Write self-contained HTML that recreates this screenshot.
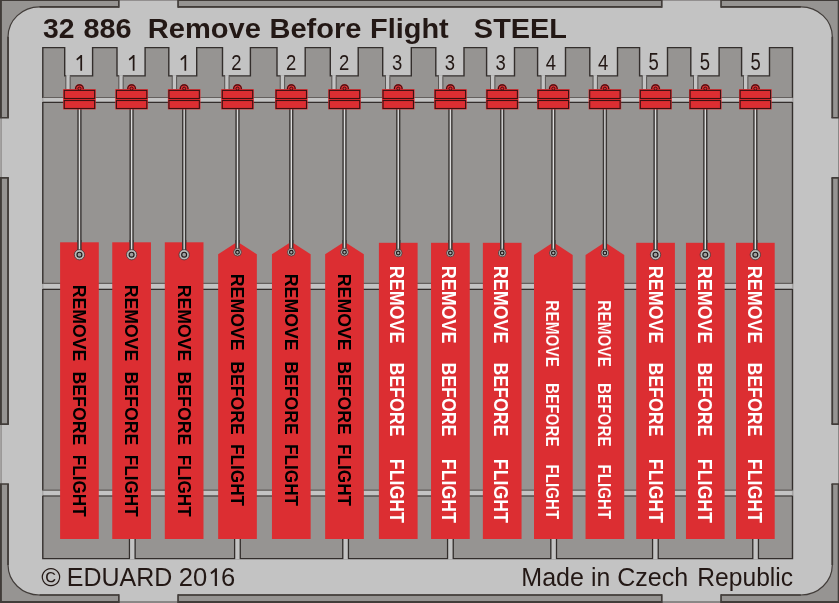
<!DOCTYPE html>
<html><head><meta charset="utf-8"><title>32 886 Remove Before Flight STEEL</title>
<style>html,body{margin:0;padding:0;background:#969492;overflow:hidden}svg{display:block;will-change:transform}text{font-family:"Liberation Sans",sans-serif;white-space:pre}</style>
</head><body>
<svg width="839" height="603" viewBox="0 0 839 603">
<rect x="0" y="0" width="839" height="603" fill="#969492"/>
<path d="M39.55,6.8 H800.8 A31.5,30 0 0 1 832.3,36.8 V565.0 A31.5,30 0 0 1 800.8,595.0 H39.55 A31.5,30 0 0 1 8.05,565.0 V36.8 A31.5,30 0 0 1 39.55,6.8 Z" fill="#c3c3c3" stroke="#413c39" stroke-width="1.2"/>
<path d="M39.55,6.8 H800.8 M832.3,36.8 V565.0 M800.8,595.0 H39.55 M8.05,565.0 V36.8" fill="none" stroke="#413c39" stroke-width="1.7"/>
<rect x="0" y="0" width="1.9" height="603" fill="#413c39"/>
<rect x="0" y="0" width="839" height="1" fill="#413c39"/>
<rect x="837.7" y="0" width="1.3" height="603" fill="#413c39"/>
<rect x="0" y="601" width="839" height="2" fill="#413c39"/>
<rect x="118.85" y="0" width="59.20000000000002" height="8" fill="#c3c3c3"/>
<rect x="118.85" y="0" width="59.20000000000002" height="0.85" fill="#8a8786"/>
<path d="M118.85,0 V7.6499999999999995 M178.05,0 V7.6499999999999995" stroke="#413c39" stroke-width="1.7" fill="none"/>
<rect x="118.85" y="593" width="59.20000000000002" height="10" fill="#c3c3c3"/>
<rect x="118.85" y="601" width="59.20000000000002" height="2" fill="#8a8786"/>
<path d="M118.85,603 V594.15 M178.05,603 V594.15" stroke="#413c39" stroke-width="1.7" fill="none"/>
<rect x="661.8" y="0" width="59.25" height="8" fill="#c3c3c3"/>
<rect x="661.8" y="0" width="59.25" height="0.85" fill="#8a8786"/>
<path d="M661.8,0 V7.6499999999999995 M721.05,0 V7.6499999999999995" stroke="#413c39" stroke-width="1.7" fill="none"/>
<rect x="661.8" y="593" width="59.25" height="10" fill="#c3c3c3"/>
<rect x="661.8" y="601" width="59.25" height="2" fill="#8a8786"/>
<path d="M661.8,603 V594.15 M721.05,603 V594.15" stroke="#413c39" stroke-width="1.7" fill="none"/>
<rect x="0" y="117.75" width="10" height="60.05000000000001" fill="#c3c3c3"/>
<rect x="0" y="117.75" width="1.7" height="60.05000000000001" fill="#a3a1a0"/>
<rect x="1.5" y="117.75" width="0.5" height="60.05000000000001" fill="#8a8786"/>
<path d="M0,117.75 H8.9 M0,177.8 H8.9" stroke="#413c39" stroke-width="1.7" fill="none"/>
<rect x="830" y="117.75" width="9" height="60.05000000000001" fill="#c3c3c3"/>
<rect x="838" y="117.75" width="1" height="60.05000000000001" fill="#8a8786"/>
<path d="M839,117.75 H831.4499999999999 M839,177.8 H831.4499999999999" stroke="#413c39" stroke-width="1.7" fill="none"/>
<rect x="0" y="424.2" width="10" height="59.80000000000001" fill="#c3c3c3"/>
<rect x="0" y="424.2" width="1.7" height="59.80000000000001" fill="#a3a1a0"/>
<rect x="1.5" y="424.2" width="0.5" height="59.80000000000001" fill="#8a8786"/>
<path d="M0,424.2 H8.9 M0,484.0 H8.9" stroke="#413c39" stroke-width="1.7" fill="none"/>
<rect x="830" y="424.2" width="9" height="59.80000000000001" fill="#c3c3c3"/>
<rect x="838" y="424.2" width="1" height="59.80000000000001" fill="#8a8786"/>
<path d="M839,424.2 H831.4499999999999 M839,484.0 H831.4499999999999" stroke="#413c39" stroke-width="1.7" fill="none"/>
<path d="M42.8,47.6 H64.70 V75.9 H92.60 V47.6 H117.00 V75.9 H145.10 V47.6 H168.80 V75.9 H196.70 V47.6 H222.50 V75.9 H250.40 V47.6 H277.00 V75.9 H305.20 V47.6 H330.30 V75.9 H358.20 V47.6 H382.70 V75.9 H411.30 V47.6 H435.80 V75.9 H464.00 V47.6 H486.60 V75.9 H514.50 V47.6 H537.60 V75.9 H565.50 V47.6 H589.80 V75.9 H617.50 V47.6 H639.60 V75.9 H667.50 V47.6 H690.80 V75.9 H719.10 V47.6 H741.60 V75.9 H769.50 V47.6 H792.5 V558.6 H42.8 Z" fill="#969492" stroke="#332e2c" stroke-width="1.4" stroke-linejoin="miter"/>
<rect x="41.8" y="98.0" width="751.7" height="3.9000000000000057" fill="#c3c3c3"/>
<path d="M42.8,97.5 H792.5" stroke="#64605e" stroke-width="1.2" fill="none"/>
<path d="M42.8,98.1 V101.80000000000001 M792.5,98.1 V101.80000000000001" stroke="#a5a3a2" stroke-width="1.2" fill="none"/>
<path d="M42.8,102.4 H792.5" stroke="#332e2c" stroke-width="1.1" fill="none"/>
<rect x="41.8" y="283.9" width="751.7" height="5.0" fill="#c3c3c3"/>
<path d="M42.8,283.4 H792.5" stroke="#64605e" stroke-width="1.2" fill="none"/>
<path d="M42.8,284.0 V288.79999999999995 M792.5,284.0 V288.79999999999995" stroke="#a5a3a2" stroke-width="1.2" fill="none"/>
<path d="M42.8,289.4 H792.5" stroke="#332e2c" stroke-width="1.1" fill="none"/>
<rect x="41.8" y="490.7" width="751.7" height="4.800000000000011" fill="#c3c3c3"/>
<path d="M42.8,490.2 H792.5" stroke="#64605e" stroke-width="1.2" fill="none"/>
<path d="M42.8,490.8 V495.4 M792.5,490.8 V495.4" stroke="#a5a3a2" stroke-width="1.2" fill="none"/>
<path d="M42.8,496.0 H792.5" stroke="#332e2c" stroke-width="1.1" fill="none"/>
<rect x="66.20" y="75.10000000000001" width="3.60" height="14.399999999999995" fill="#c3c3c3"/>
<path d="M65.80,75.9 V89.5 M70.20,76.5 V89.5" stroke="#5a5654" stroke-width="1" fill="none"/>
<rect x="119.20" y="75.10000000000001" width="3.60" height="14.399999999999995" fill="#c3c3c3"/>
<path d="M118.80,75.9 V89.5 M123.20,76.5 V89.5" stroke="#5a5654" stroke-width="1" fill="none"/>
<rect x="172.60" y="75.10000000000001" width="3.60" height="14.399999999999995" fill="#c3c3c3"/>
<path d="M172.20,75.9 V89.5 M176.60,76.5 V89.5" stroke="#5a5654" stroke-width="1" fill="none"/>
<rect x="225.10" y="75.10000000000001" width="3.60" height="14.399999999999995" fill="#c3c3c3"/>
<path d="M224.70,75.9 V89.5 M229.10,76.5 V89.5" stroke="#5a5654" stroke-width="1" fill="none"/>
<rect x="280.60" y="75.10000000000001" width="3.60" height="14.399999999999995" fill="#c3c3c3"/>
<path d="M280.20,75.9 V89.5 M284.60,76.5 V89.5" stroke="#5a5654" stroke-width="1" fill="none"/>
<rect x="332.20" y="75.10000000000001" width="3.60" height="14.399999999999995" fill="#c3c3c3"/>
<path d="M331.80,75.9 V89.5 M336.20,76.5 V89.5" stroke="#5a5654" stroke-width="1" fill="none"/>
<rect x="385.90" y="75.10000000000001" width="3.60" height="14.399999999999995" fill="#c3c3c3"/>
<path d="M385.50,75.9 V89.5 M389.90,76.5 V89.5" stroke="#5a5654" stroke-width="1" fill="none"/>
<rect x="438.90" y="75.10000000000001" width="3.60" height="14.399999999999995" fill="#c3c3c3"/>
<path d="M438.50,75.9 V89.5 M442.90,76.5 V89.5" stroke="#5a5654" stroke-width="1" fill="none"/>
<rect x="490.90" y="75.10000000000001" width="3.60" height="14.399999999999995" fill="#c3c3c3"/>
<path d="M490.50,75.9 V89.5 M494.90,76.5 V89.5" stroke="#5a5654" stroke-width="1" fill="none"/>
<rect x="541.40" y="75.10000000000001" width="3.60" height="14.399999999999995" fill="#c3c3c3"/>
<path d="M541.00,75.9 V89.5 M545.40,76.5 V89.5" stroke="#5a5654" stroke-width="1" fill="none"/>
<rect x="593.40" y="75.10000000000001" width="3.60" height="14.399999999999995" fill="#c3c3c3"/>
<path d="M593.00,75.9 V89.5 M597.40,76.5 V89.5" stroke="#5a5654" stroke-width="1" fill="none"/>
<rect x="642.60" y="75.10000000000001" width="3.60" height="14.399999999999995" fill="#c3c3c3"/>
<path d="M642.20,75.9 V89.5 M646.60,76.5 V89.5" stroke="#5a5654" stroke-width="1" fill="none"/>
<rect x="693.90" y="75.10000000000001" width="3.60" height="14.399999999999995" fill="#c3c3c3"/>
<path d="M693.50,75.9 V89.5 M697.90,76.5 V89.5" stroke="#5a5654" stroke-width="1" fill="none"/>
<rect x="743.90" y="75.10000000000001" width="3.60" height="14.399999999999995" fill="#c3c3c3"/>
<path d="M743.50,75.9 V89.5 M747.90,76.5 V89.5" stroke="#5a5654" stroke-width="1" fill="none"/>
<rect x="130.00" y="539" width="4.60" height="20.400000000000023" fill="#c3c3c3"/>
<path d="M129.45,539 V558.6 M135.15,539 V558.6" stroke="#332e2c" stroke-width="1.25" fill="none"/>
<rect x="235.15" y="539" width="4.60" height="20.400000000000023" fill="#c3c3c3"/>
<path d="M234.60,539 V558.6 M240.30,539 V558.6" stroke="#332e2c" stroke-width="1.25" fill="none"/>
<rect x="343.30" y="539" width="4.60" height="20.400000000000023" fill="#c3c3c3"/>
<path d="M342.75,539 V558.6 M348.45,539 V558.6" stroke="#332e2c" stroke-width="1.25" fill="none"/>
<rect x="448.10" y="539" width="4.60" height="20.400000000000023" fill="#c3c3c3"/>
<path d="M447.55,539 V558.6 M453.25,539 V558.6" stroke="#332e2c" stroke-width="1.25" fill="none"/>
<rect x="551.35" y="539" width="4.60" height="20.400000000000023" fill="#c3c3c3"/>
<path d="M550.80,539 V558.6 M556.50,539 V558.6" stroke="#332e2c" stroke-width="1.25" fill="none"/>
<rect x="653.10" y="539" width="4.60" height="20.400000000000023" fill="#c3c3c3"/>
<path d="M652.55,539 V558.6 M658.25,539 V558.6" stroke="#332e2c" stroke-width="1.25" fill="none"/>
<rect x="753.30" y="539" width="4.60" height="20.400000000000023" fill="#c3c3c3"/>
<path d="M752.75,539 V558.6 M758.45,539 V558.6" stroke="#332e2c" stroke-width="1.25" fill="none"/>
<rect x="77.30" y="108" width="4.3" height="142" fill="#3b3735"/>
<rect x="78.75" y="108" width="1.4" height="142" fill="#dcdcdc"/>
<rect x="129.45" y="108" width="4.3" height="142" fill="#3b3735"/>
<rect x="130.90" y="108" width="1.4" height="142" fill="#dcdcdc"/>
<rect x="182.00" y="108" width="4.3" height="142" fill="#3b3735"/>
<rect x="183.45" y="108" width="1.4" height="142" fill="#dcdcdc"/>
<rect x="235.35" y="108" width="4.3" height="141" fill="#3b3735"/>
<rect x="236.80" y="108" width="1.4" height="141" fill="#dcdcdc"/>
<rect x="289.15" y="108" width="4.3" height="141" fill="#3b3735"/>
<rect x="290.60" y="108" width="1.4" height="141" fill="#dcdcdc"/>
<rect x="342.35" y="108" width="4.3" height="141" fill="#3b3735"/>
<rect x="343.80" y="108" width="1.4" height="141" fill="#dcdcdc"/>
<rect x="396.10" y="108" width="4.3" height="141" fill="#3b3735"/>
<rect x="397.55" y="108" width="1.4" height="141" fill="#dcdcdc"/>
<rect x="448.25" y="108" width="4.3" height="141" fill="#3b3735"/>
<rect x="449.70" y="108" width="1.4" height="141" fill="#dcdcdc"/>
<rect x="500.05" y="108" width="4.3" height="141" fill="#3b3735"/>
<rect x="501.50" y="108" width="1.4" height="141" fill="#dcdcdc"/>
<rect x="551.20" y="108" width="4.3" height="141" fill="#3b3735"/>
<rect x="552.65" y="108" width="1.4" height="141" fill="#dcdcdc"/>
<rect x="602.75" y="108" width="4.3" height="141" fill="#3b3735"/>
<rect x="604.20" y="108" width="1.4" height="141" fill="#dcdcdc"/>
<rect x="653.40" y="108" width="4.3" height="142" fill="#3b3735"/>
<rect x="654.85" y="108" width="1.4" height="142" fill="#dcdcdc"/>
<rect x="703.15" y="108" width="4.3" height="142" fill="#3b3735"/>
<rect x="704.60" y="108" width="1.4" height="142" fill="#dcdcdc"/>
<rect x="753.20" y="108" width="4.3" height="142" fill="#3b3735"/>
<rect x="754.65" y="108" width="1.4" height="142" fill="#dcdcdc"/>
<rect x="60.10" y="242.3" width="38.7" height="296.7" fill="#dc2e32"/>
<rect x="112.25" y="242.3" width="38.7" height="296.7" fill="#dc2e32"/>
<rect x="164.80" y="242.3" width="38.7" height="296.7" fill="#dc2e32"/>
<path d="M218.15,539 V254.3 L237.50,241.7 L256.85,254.3 V539 Z" fill="#dc2e32"/>
<path d="M271.95,539 V254.3 L291.30,241.7 L310.65,254.3 V539 Z" fill="#dc2e32"/>
<path d="M325.15,539 V254.3 L344.50,241.7 L363.85,254.3 V539 Z" fill="#dc2e32"/>
<rect x="378.90" y="242.8" width="38.7" height="296.2" fill="#dc2e32"/>
<rect x="431.05" y="242.8" width="38.7" height="296.2" fill="#dc2e32"/>
<rect x="482.85" y="242.8" width="38.7" height="296.2" fill="#dc2e32"/>
<path d="M534.00,539 V255.1 L553.35,242.2 L572.70,255.1 V539 Z" fill="#dc2e32"/>
<path d="M585.55,539 V255.1 L604.90,242.2 L624.25,255.1 V539 Z" fill="#dc2e32"/>
<rect x="636.20" y="242.8" width="38.7" height="296.2" fill="#dc2e32"/>
<rect x="685.95" y="242.8" width="38.7" height="296.2" fill="#dc2e32"/>
<rect x="736.00" y="242.8" width="38.7" height="296.2" fill="#dc2e32"/>
<rect x="77.30" y="240" width="4.3" height="10.699999999999989" fill="#3b3735"/>
<rect x="78.75" y="240" width="1.4" height="10.699999999999989" fill="#dcdcdc"/>
<circle cx="79.45" cy="254.7" r="5.15" fill="#b9b9b9" stroke="#332e2c" stroke-width="0.7"/>
<circle cx="79.45" cy="254.7" r="2.45" fill="#9e9e9e" stroke="#1f1b1a" stroke-width="1.2"/>
<rect x="129.45" y="240" width="4.3" height="10.699999999999989" fill="#3b3735"/>
<rect x="130.90" y="240" width="1.4" height="10.699999999999989" fill="#dcdcdc"/>
<circle cx="131.60" cy="254.7" r="5.15" fill="#b9b9b9" stroke="#332e2c" stroke-width="0.7"/>
<circle cx="131.60" cy="254.7" r="2.45" fill="#9e9e9e" stroke="#1f1b1a" stroke-width="1.2"/>
<rect x="182.00" y="240" width="4.3" height="10.699999999999989" fill="#3b3735"/>
<rect x="183.45" y="240" width="1.4" height="10.699999999999989" fill="#dcdcdc"/>
<circle cx="184.15" cy="254.7" r="5.15" fill="#b9b9b9" stroke="#332e2c" stroke-width="0.7"/>
<circle cx="184.15" cy="254.7" r="2.45" fill="#9e9e9e" stroke="#1f1b1a" stroke-width="1.2"/>
<rect x="235.35" y="240" width="4.3" height="9.199999999999989" fill="#3b3735"/>
<rect x="236.80" y="240" width="1.4" height="9.199999999999989" fill="#dcdcdc"/>
<circle cx="237.50" cy="252.2" r="3.85" fill="#b9b9b9" stroke="#332e2c" stroke-width="0.7"/>
<circle cx="237.50" cy="252.2" r="1.8" fill="#a8a8a8" stroke="#1f1b1a" stroke-width="1.25"/>
<rect x="289.15" y="240" width="4.3" height="9.199999999999989" fill="#3b3735"/>
<rect x="290.60" y="240" width="1.4" height="9.199999999999989" fill="#dcdcdc"/>
<circle cx="291.30" cy="252.2" r="3.85" fill="#b9b9b9" stroke="#332e2c" stroke-width="0.7"/>
<circle cx="291.30" cy="252.2" r="1.8" fill="#a8a8a8" stroke="#1f1b1a" stroke-width="1.25"/>
<rect x="342.35" y="240" width="4.3" height="9.199999999999989" fill="#3b3735"/>
<rect x="343.80" y="240" width="1.4" height="9.199999999999989" fill="#dcdcdc"/>
<circle cx="344.50" cy="252.2" r="3.85" fill="#b9b9b9" stroke="#332e2c" stroke-width="0.7"/>
<circle cx="344.50" cy="252.2" r="1.8" fill="#a8a8a8" stroke="#1f1b1a" stroke-width="1.25"/>
<rect x="396.10" y="240" width="4.3" height="10.0" fill="#3b3735"/>
<rect x="397.55" y="240" width="1.4" height="10.0" fill="#dcdcdc"/>
<circle cx="398.25" cy="253.0" r="3.85" fill="#b9b9b9" stroke="#332e2c" stroke-width="0.7"/>
<circle cx="398.25" cy="253.0" r="1.8" fill="#a8a8a8" stroke="#1f1b1a" stroke-width="1.25"/>
<rect x="448.25" y="240" width="4.3" height="10.0" fill="#3b3735"/>
<rect x="449.70" y="240" width="1.4" height="10.0" fill="#dcdcdc"/>
<circle cx="450.40" cy="253.0" r="3.85" fill="#b9b9b9" stroke="#332e2c" stroke-width="0.7"/>
<circle cx="450.40" cy="253.0" r="1.8" fill="#a8a8a8" stroke="#1f1b1a" stroke-width="1.25"/>
<rect x="500.05" y="240" width="4.3" height="10.0" fill="#3b3735"/>
<rect x="501.50" y="240" width="1.4" height="10.0" fill="#dcdcdc"/>
<circle cx="502.20" cy="253.0" r="3.85" fill="#b9b9b9" stroke="#332e2c" stroke-width="0.7"/>
<circle cx="502.20" cy="253.0" r="1.8" fill="#a8a8a8" stroke="#1f1b1a" stroke-width="1.25"/>
<rect x="551.20" y="240" width="4.3" height="10.0" fill="#3b3735"/>
<rect x="552.65" y="240" width="1.4" height="10.0" fill="#dcdcdc"/>
<circle cx="553.35" cy="253.0" r="3.85" fill="#b9b9b9" stroke="#332e2c" stroke-width="0.7"/>
<circle cx="553.35" cy="253.0" r="1.8" fill="#a8a8a8" stroke="#1f1b1a" stroke-width="1.25"/>
<rect x="602.75" y="240" width="4.3" height="10.0" fill="#3b3735"/>
<rect x="604.20" y="240" width="1.4" height="10.0" fill="#dcdcdc"/>
<circle cx="604.90" cy="253.0" r="3.85" fill="#b9b9b9" stroke="#332e2c" stroke-width="0.7"/>
<circle cx="604.90" cy="253.0" r="1.8" fill="#a8a8a8" stroke="#1f1b1a" stroke-width="1.25"/>
<rect x="653.40" y="240" width="4.3" height="10.699999999999989" fill="#3b3735"/>
<rect x="654.85" y="240" width="1.4" height="10.699999999999989" fill="#dcdcdc"/>
<circle cx="655.55" cy="254.7" r="5.15" fill="#b9b9b9" stroke="#332e2c" stroke-width="0.7"/>
<circle cx="655.55" cy="254.7" r="2.45" fill="#9e9e9e" stroke="#1f1b1a" stroke-width="1.2"/>
<rect x="703.15" y="240" width="4.3" height="10.699999999999989" fill="#3b3735"/>
<rect x="704.60" y="240" width="1.4" height="10.699999999999989" fill="#dcdcdc"/>
<circle cx="705.30" cy="254.7" r="5.15" fill="#b9b9b9" stroke="#332e2c" stroke-width="0.7"/>
<circle cx="705.30" cy="254.7" r="2.45" fill="#9e9e9e" stroke="#1f1b1a" stroke-width="1.2"/>
<rect x="753.20" y="240" width="4.3" height="10.699999999999989" fill="#3b3735"/>
<rect x="754.65" y="240" width="1.4" height="10.699999999999989" fill="#dcdcdc"/>
<circle cx="755.35" cy="254.7" r="5.15" fill="#b9b9b9" stroke="#332e2c" stroke-width="0.7"/>
<circle cx="755.35" cy="254.7" r="2.45" fill="#9e9e9e" stroke="#1f1b1a" stroke-width="1.2"/>
<circle cx="79.45" cy="88.7" r="4.7" fill="#dc2e32"/>
<circle cx="79.45" cy="88.7" r="3.85" fill="none" stroke="#3b1112" stroke-width="1.15"/>
<rect x="63.15" y="89.1" width="32.6" height="20.3" fill="#dc2e32"/>
<rect x="64.25" y="90.4" width="30.4" height="8.1" fill="#dc2e32" stroke="#3b1112" stroke-width="1.1"/>
<rect x="64.25" y="100.5" width="30.4" height="8.0" fill="#dc2e32" stroke="#3b1112" stroke-width="1.1"/>
<circle cx="79.45" cy="88.6" r="1.5" fill="#dc2e32" stroke="#3b1112" stroke-width="1.0"/>
<circle cx="131.60" cy="88.7" r="4.7" fill="#dc2e32"/>
<circle cx="131.60" cy="88.7" r="3.85" fill="none" stroke="#3b1112" stroke-width="1.15"/>
<rect x="115.30" y="89.1" width="32.6" height="20.3" fill="#dc2e32"/>
<rect x="116.40" y="90.4" width="30.4" height="8.1" fill="#dc2e32" stroke="#3b1112" stroke-width="1.1"/>
<rect x="116.40" y="100.5" width="30.4" height="8.0" fill="#dc2e32" stroke="#3b1112" stroke-width="1.1"/>
<circle cx="131.60" cy="88.6" r="1.5" fill="#dc2e32" stroke="#3b1112" stroke-width="1.0"/>
<circle cx="184.15" cy="88.7" r="4.7" fill="#dc2e32"/>
<circle cx="184.15" cy="88.7" r="3.85" fill="none" stroke="#3b1112" stroke-width="1.15"/>
<rect x="167.85" y="89.1" width="32.6" height="20.3" fill="#dc2e32"/>
<rect x="168.95" y="90.4" width="30.4" height="8.1" fill="#dc2e32" stroke="#3b1112" stroke-width="1.1"/>
<rect x="168.95" y="100.5" width="30.4" height="8.0" fill="#dc2e32" stroke="#3b1112" stroke-width="1.1"/>
<circle cx="184.15" cy="88.6" r="1.5" fill="#dc2e32" stroke="#3b1112" stroke-width="1.0"/>
<circle cx="237.50" cy="88.7" r="4.7" fill="#dc2e32"/>
<circle cx="237.50" cy="88.7" r="3.85" fill="none" stroke="#3b1112" stroke-width="1.15"/>
<rect x="221.20" y="89.1" width="32.6" height="20.3" fill="#dc2e32"/>
<rect x="222.30" y="90.4" width="30.4" height="8.1" fill="#dc2e32" stroke="#3b1112" stroke-width="1.1"/>
<rect x="222.30" y="100.5" width="30.4" height="8.0" fill="#dc2e32" stroke="#3b1112" stroke-width="1.1"/>
<circle cx="237.50" cy="88.6" r="1.5" fill="#dc2e32" stroke="#3b1112" stroke-width="1.0"/>
<circle cx="291.30" cy="88.7" r="4.7" fill="#dc2e32"/>
<circle cx="291.30" cy="88.7" r="3.85" fill="none" stroke="#3b1112" stroke-width="1.15"/>
<rect x="275.00" y="89.1" width="32.6" height="20.3" fill="#dc2e32"/>
<rect x="276.10" y="90.4" width="30.4" height="8.1" fill="#dc2e32" stroke="#3b1112" stroke-width="1.1"/>
<rect x="276.10" y="100.5" width="30.4" height="8.0" fill="#dc2e32" stroke="#3b1112" stroke-width="1.1"/>
<circle cx="291.30" cy="88.6" r="1.5" fill="#dc2e32" stroke="#3b1112" stroke-width="1.0"/>
<circle cx="344.50" cy="88.7" r="4.7" fill="#dc2e32"/>
<circle cx="344.50" cy="88.7" r="3.85" fill="none" stroke="#3b1112" stroke-width="1.15"/>
<rect x="328.20" y="89.1" width="32.6" height="20.3" fill="#dc2e32"/>
<rect x="329.30" y="90.4" width="30.4" height="8.1" fill="#dc2e32" stroke="#3b1112" stroke-width="1.1"/>
<rect x="329.30" y="100.5" width="30.4" height="8.0" fill="#dc2e32" stroke="#3b1112" stroke-width="1.1"/>
<circle cx="344.50" cy="88.6" r="1.5" fill="#dc2e32" stroke="#3b1112" stroke-width="1.0"/>
<circle cx="398.25" cy="88.7" r="4.7" fill="#dc2e32"/>
<circle cx="398.25" cy="88.7" r="3.85" fill="none" stroke="#3b1112" stroke-width="1.15"/>
<rect x="381.95" y="89.1" width="32.6" height="20.3" fill="#dc2e32"/>
<rect x="383.05" y="90.4" width="30.4" height="8.1" fill="#dc2e32" stroke="#3b1112" stroke-width="1.1"/>
<rect x="383.05" y="100.5" width="30.4" height="8.0" fill="#dc2e32" stroke="#3b1112" stroke-width="1.1"/>
<circle cx="398.25" cy="88.6" r="1.5" fill="#dc2e32" stroke="#3b1112" stroke-width="1.0"/>
<circle cx="450.40" cy="88.7" r="4.7" fill="#dc2e32"/>
<circle cx="450.40" cy="88.7" r="3.85" fill="none" stroke="#3b1112" stroke-width="1.15"/>
<rect x="434.10" y="89.1" width="32.6" height="20.3" fill="#dc2e32"/>
<rect x="435.20" y="90.4" width="30.4" height="8.1" fill="#dc2e32" stroke="#3b1112" stroke-width="1.1"/>
<rect x="435.20" y="100.5" width="30.4" height="8.0" fill="#dc2e32" stroke="#3b1112" stroke-width="1.1"/>
<circle cx="450.40" cy="88.6" r="1.5" fill="#dc2e32" stroke="#3b1112" stroke-width="1.0"/>
<circle cx="502.20" cy="88.7" r="4.7" fill="#dc2e32"/>
<circle cx="502.20" cy="88.7" r="3.85" fill="none" stroke="#3b1112" stroke-width="1.15"/>
<rect x="485.90" y="89.1" width="32.6" height="20.3" fill="#dc2e32"/>
<rect x="487.00" y="90.4" width="30.4" height="8.1" fill="#dc2e32" stroke="#3b1112" stroke-width="1.1"/>
<rect x="487.00" y="100.5" width="30.4" height="8.0" fill="#dc2e32" stroke="#3b1112" stroke-width="1.1"/>
<circle cx="502.20" cy="88.6" r="1.5" fill="#dc2e32" stroke="#3b1112" stroke-width="1.0"/>
<circle cx="553.35" cy="88.7" r="4.7" fill="#dc2e32"/>
<circle cx="553.35" cy="88.7" r="3.85" fill="none" stroke="#3b1112" stroke-width="1.15"/>
<rect x="537.05" y="89.1" width="32.6" height="20.3" fill="#dc2e32"/>
<rect x="538.15" y="90.4" width="30.4" height="8.1" fill="#dc2e32" stroke="#3b1112" stroke-width="1.1"/>
<rect x="538.15" y="100.5" width="30.4" height="8.0" fill="#dc2e32" stroke="#3b1112" stroke-width="1.1"/>
<circle cx="553.35" cy="88.6" r="1.5" fill="#dc2e32" stroke="#3b1112" stroke-width="1.0"/>
<circle cx="604.90" cy="88.7" r="4.7" fill="#dc2e32"/>
<circle cx="604.90" cy="88.7" r="3.85" fill="none" stroke="#3b1112" stroke-width="1.15"/>
<rect x="588.60" y="89.1" width="32.6" height="20.3" fill="#dc2e32"/>
<rect x="589.70" y="90.4" width="30.4" height="8.1" fill="#dc2e32" stroke="#3b1112" stroke-width="1.1"/>
<rect x="589.70" y="100.5" width="30.4" height="8.0" fill="#dc2e32" stroke="#3b1112" stroke-width="1.1"/>
<circle cx="604.90" cy="88.6" r="1.5" fill="#dc2e32" stroke="#3b1112" stroke-width="1.0"/>
<circle cx="655.55" cy="88.7" r="4.7" fill="#dc2e32"/>
<circle cx="655.55" cy="88.7" r="3.85" fill="none" stroke="#3b1112" stroke-width="1.15"/>
<rect x="639.25" y="89.1" width="32.6" height="20.3" fill="#dc2e32"/>
<rect x="640.35" y="90.4" width="30.4" height="8.1" fill="#dc2e32" stroke="#3b1112" stroke-width="1.1"/>
<rect x="640.35" y="100.5" width="30.4" height="8.0" fill="#dc2e32" stroke="#3b1112" stroke-width="1.1"/>
<circle cx="655.55" cy="88.6" r="1.5" fill="#dc2e32" stroke="#3b1112" stroke-width="1.0"/>
<circle cx="705.30" cy="88.7" r="4.7" fill="#dc2e32"/>
<circle cx="705.30" cy="88.7" r="3.85" fill="none" stroke="#3b1112" stroke-width="1.15"/>
<rect x="689.00" y="89.1" width="32.6" height="20.3" fill="#dc2e32"/>
<rect x="690.10" y="90.4" width="30.4" height="8.1" fill="#dc2e32" stroke="#3b1112" stroke-width="1.1"/>
<rect x="690.10" y="100.5" width="30.4" height="8.0" fill="#dc2e32" stroke="#3b1112" stroke-width="1.1"/>
<circle cx="705.30" cy="88.6" r="1.5" fill="#dc2e32" stroke="#3b1112" stroke-width="1.0"/>
<circle cx="755.35" cy="88.7" r="4.7" fill="#dc2e32"/>
<circle cx="755.35" cy="88.7" r="3.85" fill="none" stroke="#3b1112" stroke-width="1.15"/>
<rect x="739.05" y="89.1" width="32.6" height="20.3" fill="#dc2e32"/>
<rect x="740.15" y="90.4" width="30.4" height="8.1" fill="#dc2e32" stroke="#3b1112" stroke-width="1.1"/>
<rect x="740.15" y="100.5" width="30.4" height="8.0" fill="#dc2e32" stroke="#3b1112" stroke-width="1.1"/>
<circle cx="755.35" cy="88.6" r="1.5" fill="#dc2e32" stroke="#3b1112" stroke-width="1.0"/>
<text transform="translate(73.15,284.82) rotate(90) scale(0.9802,1)" font-size="18" font-weight="bold" fill="#000" >REMOVE</text>
<text transform="translate(73.15,371.52) rotate(90) scale(0.9836,1)" font-size="18" font-weight="bold" fill="#000" >BEFORE</text>
<text transform="translate(73.15,454.75) rotate(90) scale(0.9530,1)" font-size="18" font-weight="bold" fill="#000" >FLIGHT</text>
<text transform="translate(125.30,284.82) rotate(90) scale(0.9802,1)" font-size="18" font-weight="bold" fill="#000" >REMOVE</text>
<text transform="translate(125.30,371.52) rotate(90) scale(0.9836,1)" font-size="18" font-weight="bold" fill="#000" >BEFORE</text>
<text transform="translate(125.30,454.75) rotate(90) scale(0.9530,1)" font-size="18" font-weight="bold" fill="#000" >FLIGHT</text>
<text transform="translate(177.85,284.82) rotate(90) scale(0.9802,1)" font-size="18" font-weight="bold" fill="#000" >REMOVE</text>
<text transform="translate(177.85,371.52) rotate(90) scale(0.9836,1)" font-size="18" font-weight="bold" fill="#000" >BEFORE</text>
<text transform="translate(177.85,454.75) rotate(90) scale(0.9530,1)" font-size="18" font-weight="bold" fill="#000" >FLIGHT</text>
<text transform="translate(231.00,273.81) rotate(90) scale(0.9855,1)" font-size="18" font-weight="bold" fill="#000" >REMOVE</text>
<text transform="translate(231.00,361.22) rotate(90) scale(0.9809,1)" font-size="18" font-weight="bold" fill="#000" >BEFORE</text>
<text transform="translate(231.00,443.95) rotate(90) scale(0.9577,1)" font-size="18" font-weight="bold" fill="#000" >FLIGHT</text>
<text transform="translate(284.80,273.81) rotate(90) scale(0.9855,1)" font-size="18" font-weight="bold" fill="#000" >REMOVE</text>
<text transform="translate(284.80,361.22) rotate(90) scale(0.9809,1)" font-size="18" font-weight="bold" fill="#000" >BEFORE</text>
<text transform="translate(284.80,443.95) rotate(90) scale(0.9577,1)" font-size="18" font-weight="bold" fill="#000" >FLIGHT</text>
<text transform="translate(338.00,273.81) rotate(90) scale(0.9855,1)" font-size="18" font-weight="bold" fill="#000" >REMOVE</text>
<text transform="translate(338.00,361.22) rotate(90) scale(0.9809,1)" font-size="18" font-weight="bold" fill="#000" >BEFORE</text>
<text transform="translate(338.00,443.95) rotate(90) scale(0.9577,1)" font-size="18" font-weight="bold" fill="#000" >FLIGHT</text>
<text transform="translate(390.15,265.80) rotate(90) scale(0.8703,1)" font-size="20.6" font-weight="bold" fill="#fff" >REMOVE</text>
<text transform="translate(390.15,362.51) rotate(90) scale(0.8607,1)" font-size="20.6" font-weight="bold" fill="#fff" >BEFORE</text>
<text transform="translate(390.15,458.81) rotate(90) scale(0.8616,1)" font-size="20.6" font-weight="bold" fill="#fff" >FLIGHT</text>
<text transform="translate(442.30,265.80) rotate(90) scale(0.8703,1)" font-size="20.6" font-weight="bold" fill="#fff" >REMOVE</text>
<text transform="translate(442.30,362.51) rotate(90) scale(0.8607,1)" font-size="20.6" font-weight="bold" fill="#fff" >BEFORE</text>
<text transform="translate(442.30,458.81) rotate(90) scale(0.8616,1)" font-size="20.6" font-weight="bold" fill="#fff" >FLIGHT</text>
<text transform="translate(494.10,265.80) rotate(90) scale(0.8703,1)" font-size="20.6" font-weight="bold" fill="#fff" >REMOVE</text>
<text transform="translate(494.10,362.51) rotate(90) scale(0.8607,1)" font-size="20.6" font-weight="bold" fill="#fff" >BEFORE</text>
<text transform="translate(494.10,458.81) rotate(90) scale(0.8616,1)" font-size="20.6" font-weight="bold" fill="#fff" >FLIGHT</text>
<text transform="translate(546.30,300.27) rotate(90) scale(0.8663,1)" font-size="17.8" font-weight="bold" fill="#fff" stroke="#dc2e32" stroke-width="0.15">REMOVE</text>
<text transform="translate(546.30,382.98) rotate(90) scale(0.8605,1)" font-size="17.8" font-weight="bold" fill="#fff" stroke="#dc2e32" stroke-width="0.15">BEFORE</text>
<text transform="translate(546.30,464.49) rotate(90) scale(0.8508,1)" font-size="17.8" font-weight="bold" fill="#fff" stroke="#dc2e32" stroke-width="0.15">FLIGHT</text>
<text transform="translate(597.85,300.27) rotate(90) scale(0.8663,1)" font-size="17.8" font-weight="bold" fill="#fff" stroke="#dc2e32" stroke-width="0.15">REMOVE</text>
<text transform="translate(597.85,382.98) rotate(90) scale(0.8605,1)" font-size="17.8" font-weight="bold" fill="#fff" stroke="#dc2e32" stroke-width="0.15">BEFORE</text>
<text transform="translate(597.85,464.49) rotate(90) scale(0.8508,1)" font-size="17.8" font-weight="bold" fill="#fff" stroke="#dc2e32" stroke-width="0.15">FLIGHT</text>
<text transform="translate(648.55,265.80) rotate(90) scale(0.8703,1)" font-size="20.6" font-weight="bold" fill="#fff" >REMOVE</text>
<text transform="translate(648.55,362.51) rotate(90) scale(0.8607,1)" font-size="20.6" font-weight="bold" fill="#fff" >BEFORE</text>
<text transform="translate(648.55,458.81) rotate(90) scale(0.8616,1)" font-size="20.6" font-weight="bold" fill="#fff" >FLIGHT</text>
<text transform="translate(698.30,265.80) rotate(90) scale(0.8703,1)" font-size="20.6" font-weight="bold" fill="#fff" >REMOVE</text>
<text transform="translate(698.30,362.51) rotate(90) scale(0.8607,1)" font-size="20.6" font-weight="bold" fill="#fff" >BEFORE</text>
<text transform="translate(698.30,458.81) rotate(90) scale(0.8616,1)" font-size="20.6" font-weight="bold" fill="#fff" >FLIGHT</text>
<text transform="translate(748.35,265.80) rotate(90) scale(0.8703,1)" font-size="20.6" font-weight="bold" fill="#fff" >REMOVE</text>
<text transform="translate(748.35,362.51) rotate(90) scale(0.8607,1)" font-size="20.6" font-weight="bold" fill="#fff" >BEFORE</text>
<text transform="translate(748.35,458.81) rotate(90) scale(0.8616,1)" font-size="20.6" font-weight="bold" fill="#fff" >FLIGHT</text>
<path d="M80.35,55 H82.10 V70.8 H80.35 V57.9 L77.10,60.5 L76.30,59.1 L80.35,55.6 Z" fill="#231815"/>
<path d="M132.75,55 H134.50 V70.8 H132.75 V57.9 L129.50,60.5 L128.70,59.1 L132.75,55.6 Z" fill="#231815"/>
<path d="M184.45,55 H186.20 V70.8 H184.45 V57.9 L181.20,60.5 L180.40,59.1 L184.45,55.6 Z" fill="#231815"/>
<text transform="translate(231.31,70.3) scale(0.84,0.98)" font-size="22.0" fill="#231815">2</text>
<text transform="translate(285.96,70.3) scale(0.84,0.98)" font-size="22.0" fill="#231815">2</text>
<text transform="translate(339.11,70.3) scale(0.84,0.98)" font-size="22.0" fill="#231815">2</text>
<text transform="translate(391.92,69.5) scale(0.84,1.0)" font-size="22.0" fill="#231815">3</text>
<text transform="translate(444.82,69.5) scale(0.84,1.0)" font-size="22.0" fill="#231815">3</text>
<text transform="translate(495.47,69.5) scale(0.84,1.0)" font-size="22.0" fill="#231815">3</text>
<text transform="translate(545.87,69.7) scale(0.84,0.98)" font-size="22.0" fill="#231815">4</text>
<text transform="translate(597.97,69.7) scale(0.84,0.98)" font-size="22.0" fill="#231815">4</text>
<text transform="translate(648.43,69.5) scale(0.84,1.05)" font-size="22.0" fill="#231815">5</text>
<text transform="translate(699.83,69.5) scale(0.84,1.05)" font-size="22.0" fill="#231815">5</text>
<text transform="translate(750.43,69.5) scale(0.84,1.05)" font-size="22.0" fill="#231815">5</text>
<text transform="translate(43.05,38.45) scale(0.9966,1)" font-size="28.4" font-weight="bold" fill="#231815" >32</text>
<text transform="translate(83.48,38.45) scale(1.0164,1)" font-size="28.4" font-weight="bold" fill="#231815" >886</text>
<text transform="translate(147.75,38.45) scale(1.0239,1)" font-size="28.4" font-weight="bold" fill="#231815" >Remove</text>
<text transform="translate(269.46,38.45) scale(1.0220,1)" font-size="28.4" font-weight="bold" fill="#231815" >Before</text>
<text transform="translate(369.96,38.45) scale(1.0195,1)" font-size="28.4" font-weight="bold" fill="#231815" >Flight</text>
<text transform="translate(473.87,38.45) scale(1.0175,1)" font-size="28.4" font-weight="bold" fill="#231815" >STEEL</text>
<text transform="translate(41.30,585.90) scale(1.0250,1)" font-size="25.7" font-weight="normal" fill="#231815" >©</text>
<text transform="translate(66.85,585.90) scale(0.9731,1)" font-size="25.7" font-weight="normal" fill="#231815" >EDUARD</text>
<text transform="translate(178.71,585.90) scale(0.9966,1)" font-size="25.7" font-weight="normal" fill="#231815" >20</text>
<text transform="translate(221.10,585.90) scale(0.9951,1)" font-size="25.7" font-weight="normal" fill="#231815" >6</text>
<path d="M214.75,568.22 H216.95 V585.9 H214.75 V571.82 L211.4,574.32 L210.4,572.42 L214.75,569.12 Z" fill="#231815"/>
<text transform="translate(521.34,586.00) scale(0.9748,1)" font-size="25.7" font-weight="normal" fill="#231815" >Made</text>
<text transform="translate(590.94,586.00) scale(0.9630,1)" font-size="25.7" font-weight="normal" fill="#231815" >in</text>
<text transform="translate(617.23,586.00) scale(0.9746,1)" font-size="25.7" font-weight="normal" fill="#231815" >Czech</text>
<text transform="translate(697.28,586.00) scale(0.9587,1)" font-size="25.7" font-weight="normal" fill="#231815" >Republic</text>
</svg>
</body></html>
